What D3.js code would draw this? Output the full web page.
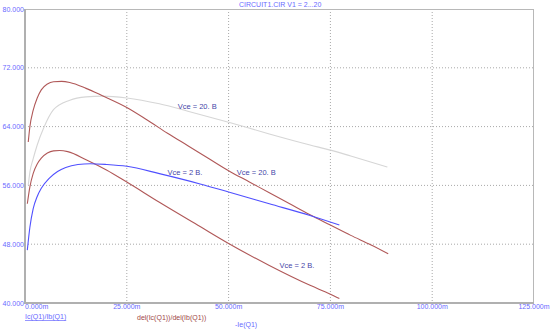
<!DOCTYPE html>
<html>
<head>
<meta charset="utf-8">
<script src="https://cdn.jsdelivr.net/npm/d3@7.9.0/dist/d3.min.js"></script>
<style>
  body { margin: 0; background: #fff; }
  svg { display: block; font-family: "Liberation Sans", Arial, sans-serif; }
</style>
</head>
<body>
<svg id="chart" width="553" height="333"></svg>
<script>
// axis ticks
const xTicks = [0, 25, 50, 75, 100, 125];   // -Ie(Q1) in mA
const yTicks = [40, 48, 56, 64, 72, 80];

// Ic/Ib, Vce = 20 (grey)
const beta20X = [0.8, 1.2, 2.0, 3.0, 4.5, 7, 11, 15, 19, 25, 33, 40, 50, 60, 70, 75, 80, 89];
const beta20Y = [56.0, 57.8, 59.6, 61.5, 63.7, 66.3, 67.6, 68.05, 68.15, 67.9, 67.1, 66.1, 64.6, 63.0, 61.5, 60.8, 60.0, 58.5];

// Ic/Ib, Vce = 2 (blue)
const beta2X = [0.57, 1.2, 2.0, 3.0, 4.0, 6.0, 8, 10, 13, 16, 20, 25, 33, 43, 50, 60, 70, 77.2];
const beta2Y = [47.2, 50.3, 52.8, 54.5, 55.6, 57.0, 57.9, 58.45, 58.85, 58.95, 58.85, 58.6, 57.6, 56.2, 55.1, 53.5, 51.9, 50.6];

// del(Ic)/del(Ib), Vce = 20 (brown)
const hfe20X = [0.8, 1.2, 2.0, 3.0, 4.0, 5.5, 7, 9, 11, 15, 19, 25, 30, 35, 40, 45, 50, 55, 60, 65, 70, 75, 80, 85, 89.2];
const hfe20Y = [61.9, 64.0, 66.2, 67.9, 69.0, 69.8, 70.1, 70.15, 70.0, 69.2, 68.2, 66.6, 64.9, 63.1, 61.4, 59.7, 58.0, 56.5, 55.0, 53.5, 52.0, 50.6, 49.2, 47.9, 46.7];

// del(Ic)/del(Ib), Vce = 2 (brown)
const hfe2X = [0.57, 1.2, 2.0, 3.0, 4.0, 5.5, 7, 8.5, 10.5, 15, 20, 25, 33, 43, 50, 60, 70, 75, 77.2];
const hfe2Y = [53.5, 55.8, 57.6, 58.9, 59.7, 60.4, 60.7, 60.75, 60.6, 59.5, 58.1, 56.45, 53.7, 50.4, 48.1, 45.1, 42.4, 41.2, 40.6];

// curve annotations
const noteText = ["Vce = 20. B", "Vce = 2 B.", "Vce = 20. B", "Vce = 2 B."];
const noteX = [37.5, 35, 52, 62.5];
const noteY = [66.4, 57.4, 57.4, 44.8];

const svg = d3.select("#chart");
const plotL = 25, plotR = 534, plotT = 9, plotB = 303;

const x = d3.scaleLinear().domain([0, 125]).range([plotL, plotR]);
const y = d3.scaleLinear().domain([40, 80]).range([plotB, plotT]);

const tickBlue = "#6a6aff";

// grid
svg.append("g").selectAll("line")
    .data(xTicks.slice(1, -1))
    .join("line")
    .attr("x1", d => x(d)).attr("x2", d => x(d))
    .attr("y1", plotT).attr("y2", plotB)
    .attr("stroke", "#a8a8a8").attr("stroke-dasharray", "1,2");

svg.append("g").selectAll("line")
    .data(yTicks.slice(1, -1))
    .join("line")
    .attr("x1", plotL).attr("x2", plotR)
    .attr("y1", d => y(d)).attr("y2", d => y(d))
    .attr("stroke", "#a8a8a8").attr("stroke-dasharray", "1,2");

// frame
svg.append("rect")
    .attr("x", plotL + 0.5).attr("y", plotT + 0.5)
    .attr("width", plotR - plotL - 1).attr("height", plotB - plotT - 1)
    .attr("fill", "none").attr("stroke", "#b8b8b8");
svg.append("line")
    .attr("x1", plotL).attr("x2", plotL).attr("y1", plotT).attr("y2", plotB + 1)
    .attr("stroke", "#b0b0b0").attr("stroke-width", 2);
svg.append("line")
    .attr("x1", plotL).attr("x2", plotR).attr("y1", plotB).attr("y2", plotB)
    .attr("stroke", "#b0b0b0").attr("stroke-width", 2);

// tick labels
svg.append("g").selectAll("text")
    .data(yTicks)
    .join("text")
    .attr("x", plotL - 1).attr("y", d => y(d) + 2.5)
    .attr("text-anchor", "end")
    .attr("font-size", 7).attr("fill", tickBlue)
    .text(d => d3.format(".3f")(d));

svg.append("g").selectAll("text")
    .data(xTicks)
    .join("text")
    .attr("x", d => x(d)).attr("y", plotB + 6)
    .attr("text-anchor", (d, i) => i === 0 ? "start" : "middle")
    .attr("font-size", 7).attr("fill", tickBlue)
    .text(d => d3.format(".3f")(d) + "m");

// curves
const line = d3.line()
    .x(d => x(d[0]))
    .y(d => y(d[1]))
    .curve(d3.curveMonotoneX);

const series = [
    { xs: beta20X, ys: beta20Y, color: "#d6d6d6" },
    { xs: hfe2X, ys: hfe2Y, color: "#b05858" },
    { xs: hfe20X, ys: hfe20Y, color: "#b05858" },
    { xs: beta2X, ys: beta2Y, color: "#5050ff" }
];

svg.append("g").selectAll("path")
    .data(series)
    .join("path")
    .attr("d", s => line(d3.zip(s.xs, s.ys)))
    .attr("fill", "none")
    .attr("stroke", s => s.color)
    .attr("stroke-width", 1.1);

// annotations
svg.append("g").selectAll("text")
    .data(noteText)
    .join("text")
    .attr("x", (d, i) => x(noteX[i])).attr("y", (d, i) => y(noteY[i]))
    .attr("font-size", 7.5).attr("fill", "#4646a8")
    .text(d => d);

// title
svg.append("text")
    .attr("x", 239).attr("y", 7)
    .attr("font-size", 7).attr("fill", tickBlue)
    .text("CIRCUIT1.CIR V1 = 2...20");

// legend / axis names
svg.append("text")
    .attr("x", 25).attr("y", 319)
    .attr("font-size", 7).attr("fill", tickBlue)
    .attr("text-decoration", "underline")
    .text("Ic(Q1)/Ib(Q1)");
svg.append("text")
    .attr("x", 137).attr("y", 320)
    .attr("font-size", 7).attr("fill", "#a04848")
    .text("del(Ic(Q1))/del(Ib(Q1))");
svg.append("text")
    .attr("x", 235).attr("y", 327)
    .attr("font-size", 7).attr("fill", tickBlue)
    .text("-Ie(Q1)");
</script>
</body>
</html>
